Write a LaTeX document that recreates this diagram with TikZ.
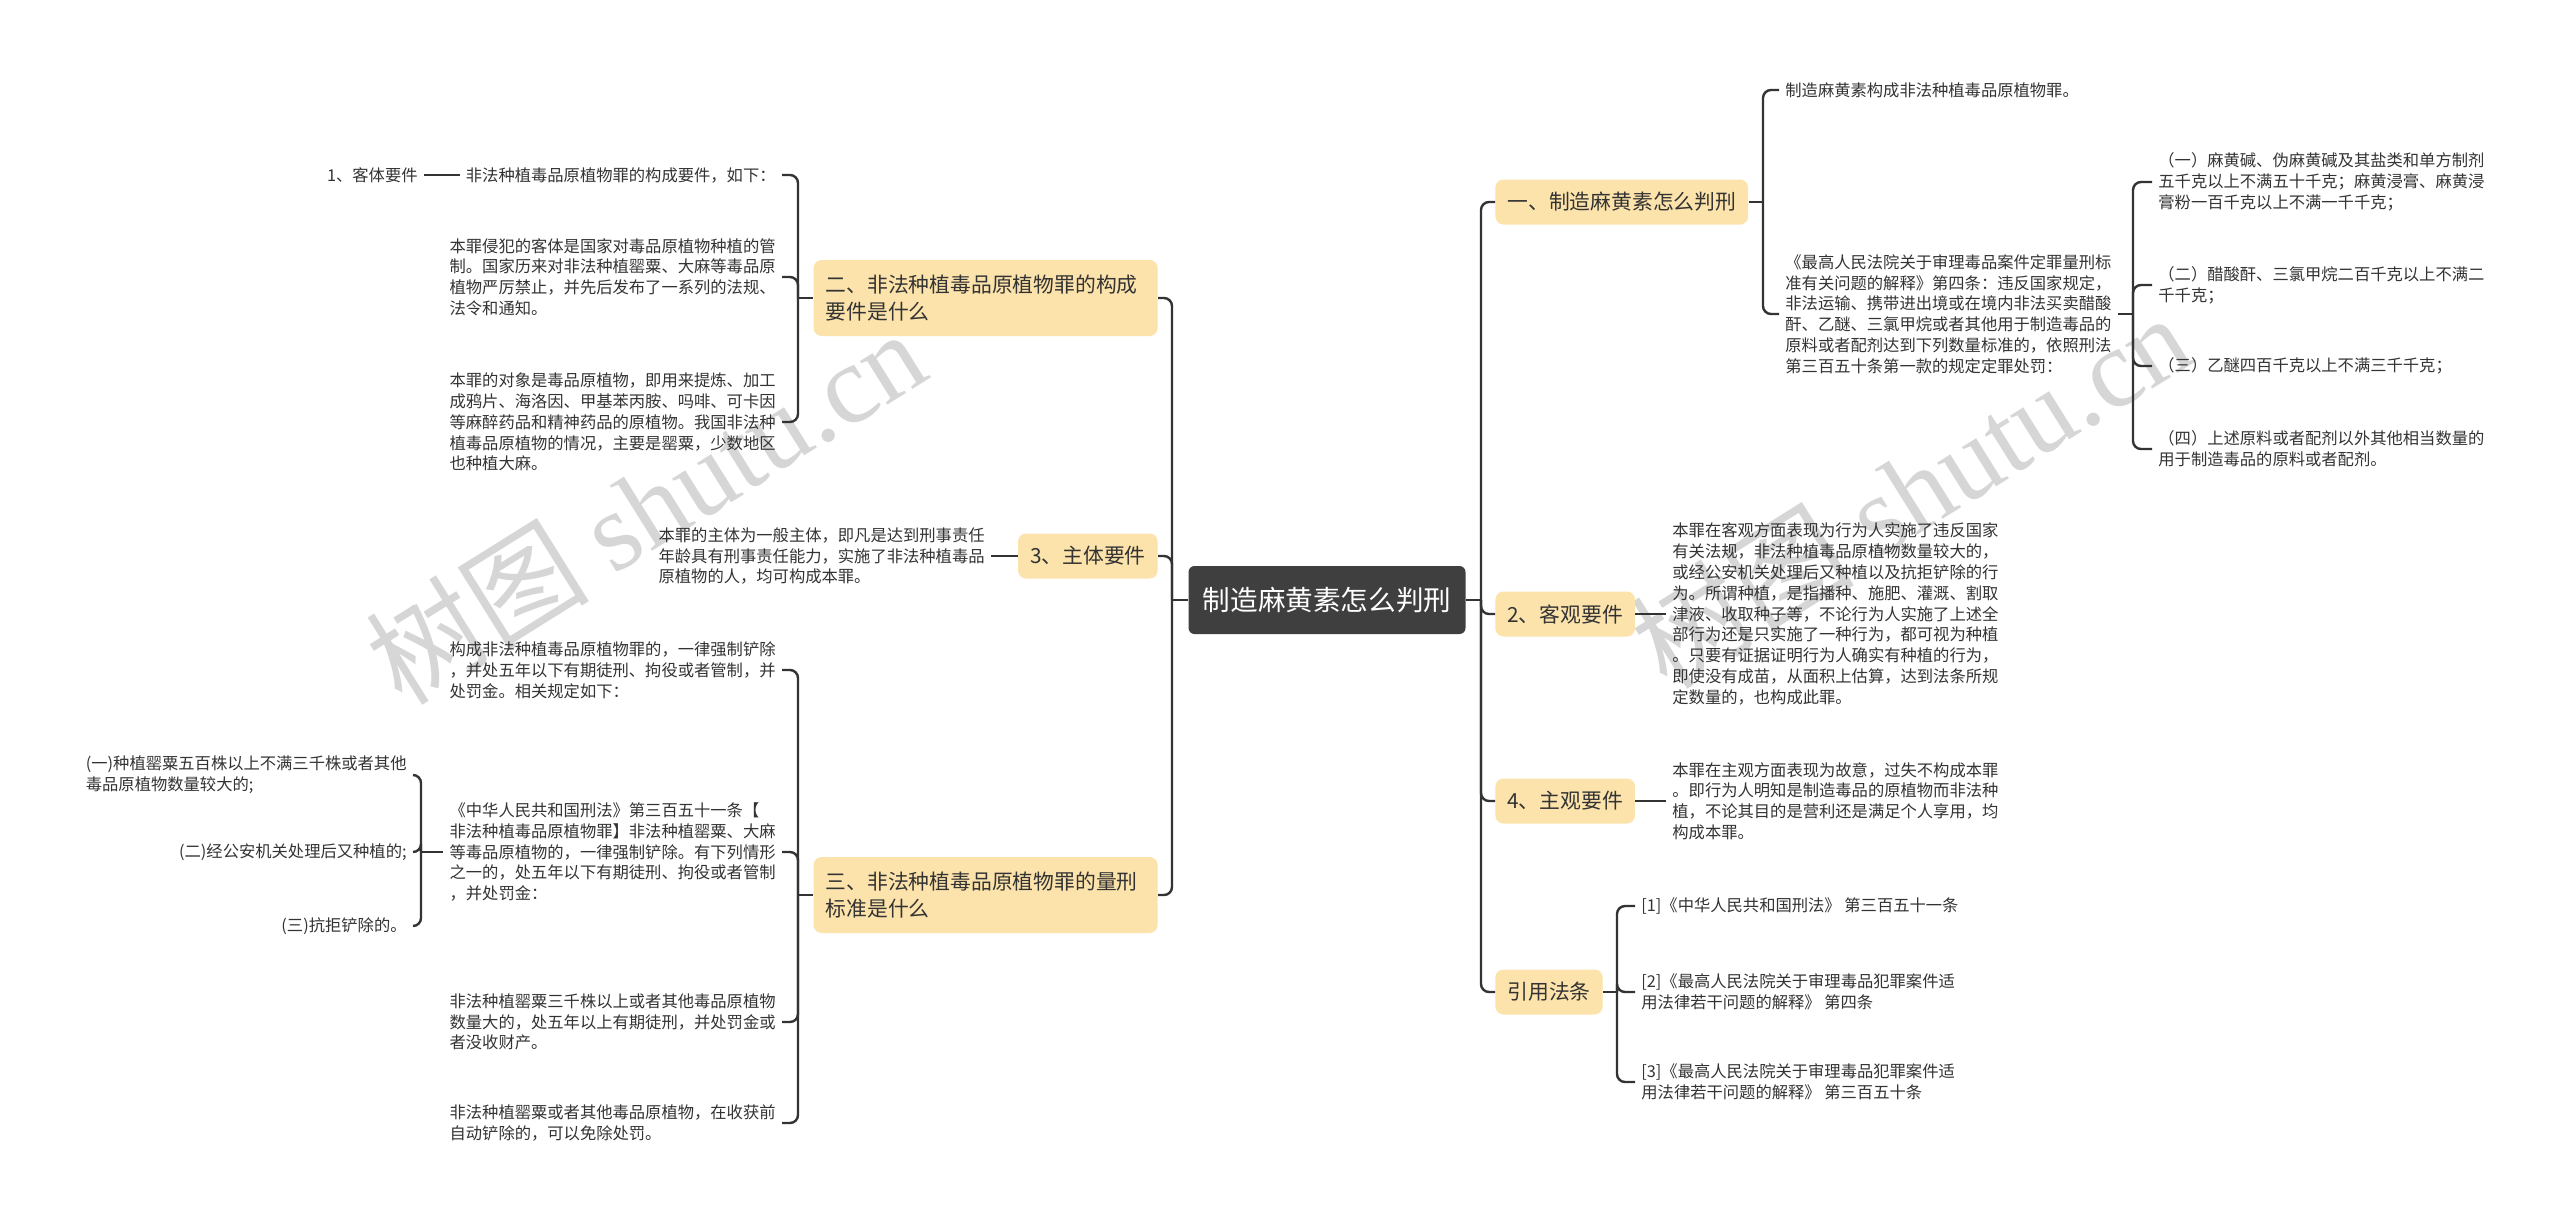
\documentclass[tikz,border=0pt]{standalone}
\usepackage{fontspec}
\newfontfamily\cjk{Noto Sans CJK SC}
\newfontfamily\wmserif{Liberation Serif}
\usetikzlibrary{positioning}
\definecolor{rootgray}{HTML}{3F3F3F}
\definecolor{topicbg}{HTML}{FCE3AB}
\definecolor{linegray}{HTML}{333333}
\definecolor{wmgray}{HTML}{D6D6D6}

\begin{document}
\begin{tikzpicture}[x=0.5pt, y=-0.5pt, font=\cjk, text=linegray,
  root/.style={fill=rootgray, text=white, rounded corners=3pt, minimum width=138.5pt, minimum height=34pt, inner sep=0pt, font=\cjk\fontsize{13.8}{16}\selectfont},
  topic/.style={fill=topicbg, rounded corners=4pt, minimum height=22.5pt, inner xsep=6pt, inner ysep=5pt, font=\cjk\fontsize{10.4}{13.5}\selectfont},
  wide/.style={text width=160pt, align=left, minimum height=38pt},
  leaf/.style={inner xsep=3pt, inner ysep=0pt, align=left, font=\cjk\fontsize{8.15}{10.4}\selectfont},
  link/.style={draw=linegray, line width=1.2pt, rounded corners=4pt},
  wm/.style={text=wmgray, font=\cjk\fontsize{56}{60}\selectfont, inner sep=0pt}]
\fill[white] (0,0) rectangle (2560,1223);
\useasboundingbox (0,0) rectangle (2560,1223);

\node[wm, rotate=32] (wmleft) at (645,506) {树图 {\wmserif shutu.cn}};
\node[wm, rotate=32] (wmright) at (1910,490) {树图 {\wmserif shutu.cn}};

\node[root] (root) at (1327,600) {制造麻黄素怎么判刑};

% right side
\node[topic, anchor=west] (t1) at (1495,202) {一、制造麻黄素怎么判刑};
\node[topic, anchor=west] (t2) at (1495,614) {2、客观要件};
\node[topic, anchor=west] (t4) at (1495,801) {4、主观要件};
\node[topic, anchor=west] (tref) at (1495,992) {引用法条};

\node[leaf, anchor=west] (a1) at (1779,90) {制造麻黄素构成非法种植毒品原植物罪。};
\node[leaf, anchor=west] (a2) at (1779,314) {《最高人民法院关于审理毒品案件定罪量刑标\\准有关问题的解释》第四条：违反国家规定，\\非法运输、携带进出境或在境内非法买卖醋酸\\酐、乙醚、三氯甲烷或者其他用于制造毒品的\\原料或者配剂达到下列数量标准的，依照刑法\\第三百五十条第一款的规定定罪处罚：};
\node[leaf, anchor=west] (c1) at (2152,182) {（一）麻黄碱、伪麻黄碱及其盐类和单方制剂\\五千克以上不满五十千克；麻黄浸膏、麻黄浸\\膏粉一百千克以上不满一千千克；};
\node[leaf, anchor=west] (c2) at (2152,285) {（二）醋酸酐、三氯甲烷二百千克以上不满二\\千千克；};
\node[leaf, anchor=west] (c3) at (2152,366) {（三）乙醚四百千克以上不满三千千克；};
\node[leaf, anchor=west] (c4) at (2152,449) {（四）上述原料或者配剂以外其他相当数量的\\用于制造毒品的原料或者配剂。};

\node[leaf, anchor=west] (s2) at (1666,614) {本罪在客观方面表现为行为人实施了违反国家\\有关法规，非法种植毒品原植物数量较大的，\\或经公安机关处理后又种植以及抗拒铲除的行\\为。所谓种植，是指播种、施肥、灌溉、割取\\津液、收取种子等，不论行为人实施了上述全\\部行为还是只实施了一种行为，都可视为种植\\。只要有证据证明行为人确实有种植的行为，\\即使没有成苗，从面积上估算，达到法条所规\\定数量的，也构成此罪。};
\node[leaf, anchor=west] (s4) at (1666,801) {本罪在主观方面表现为故意，过失不构成本罪\\。即行为人明知是制造毒品的原植物而非法种\\植，不论其目的是营利还是满足个人享用，均\\构成本罪。};

\node[leaf, anchor=west] (d1) at (1635,906) {[1]《中华人民共和国刑法》 第三百五十一条};
\node[leaf, anchor=west] (d2) at (1635,992) {[2]《最高人民法院关于审理毒品犯罪案件适\\用法律若干问题的解释》 第四条};
\node[leaf, anchor=west] (d3) at (1635,1082) {[3]《最高人民法院关于审理毒品犯罪案件适\\用法律若干问题的解释》 第三百五十条};

% left side
\node[topic, wide, anchor=east] (tcomp) at (1158,298) {二、非法种植毒品原植物罪的构成\\要件是什么};
\node[topic, anchor=east] (t3) at (1158,556) {3、主体要件};
\node[topic, wide, anchor=east] (tpen) at (1158,895) {三、非法种植毒品原植物罪的量刑\\标准是什么};

\node[leaf, anchor=east] (e1) at (782,175) {非法种植毒品原植物罪的构成要件，如下：};
\node[leaf, anchor=east] (f1) at (424,175) {1、客体要件};
\node[leaf, anchor=east] (e2) at (782,277) {本罪侵犯的客体是国家对毒品原植物种植的管\\制。国家历来对非法种植罂粟、大麻等毒品原\\植物严厉禁止，并先后发布了一系列的法规、\\法令和通知。};
\node[leaf, anchor=east] (e3) at (782,422) {本罪的对象是毒品原植物，即用来提炼、加工\\成鸦片、海洛因、甲基苯丙胺、吗啡、可卡因\\等麻醉药品和精神药品的原植物。我国非法种\\植毒品原植物的情况，主要是罂粟，少数地区\\也种植大麻。};

\node[leaf, anchor=east] (k) at (991,556) {本罪的主体为一般主体，即凡是达到刑事责任\\年龄具有刑事责任能力，实施了非法种植毒品\\原植物的人，均可构成本罪。};

\node[leaf, anchor=east] (g1) at (782,670) {构成非法种植毒品原植物罪的，一律强制铲除\\，并处五年以下有期徒刑、拘役或者管制，并\\处罚金。相关规定如下：};
\node[leaf, anchor=east] (g2) at (782,852) {《中华人民共和国刑法》第三百五十一条【\\非法种植毒品原植物罪】非法种植罂粟、大麻\\等毒品原植物的，一律强制铲除。有下列情形\\之一的，处五年以下有期徒刑、拘役或者管制\\，并处罚金：};
\node[leaf, anchor=east] (g3) at (782,1022) {非法种植罂粟三千株以上或者其他毒品原植物\\数量大的，处五年以上有期徒刑，并处罚金或\\者没收财产。};
\node[leaf, anchor=east] (g4) at (782,1123) {非法种植罂粟或者其他毒品原植物，在收获前\\自动铲除的，可以免除处罚。};

\node[leaf, anchor=east] (h1) at (413,775) {(一)种植罂粟五百株以上不满三千株或者其他\\毒品原植物数量较大的;};
\node[leaf, anchor=east] (h2) at (413,852) {(二)经公安机关处理后又种植的;};
\node[leaf, anchor=east] (h3) at (413,926) {(三)抗拒铲除的。};

% connectors
\coordinate (jr) at (1481,600);
\coordinate (jl) at (1172,600);
\coordinate (j1) at (1763,202);
\coordinate (ja) at (2133,314);
\coordinate (jref) at (1617,992);
\coordinate (jc) at (798,298);
\coordinate (jp) at (798,895);
\coordinate (jg) at (421,852);

\draw[link] (root.east) -- (jr);
\foreach \n in {t1,t2,t4,tref} \draw[link] (jr) |- (\n.west);
\draw[link] (t1.east) -- (j1);
\foreach \n in {a1,a2} \draw[link] (j1) |- (\n.west);
\draw[link] (a2.east) -- (ja);
\foreach \n in {c1,c2,c3,c4} \draw[link] (ja) |- (\n.west);
\draw[link] (t2.east) -- (s2.west);
\draw[link] (t4.east) -- (s4.west);
\draw[link] (tref.east) -- (jref);
\foreach \n in {d1,d2,d3} \draw[link] (jref) |- (\n.west);

\draw[link] (root.west) -- (jl);
\foreach \n in {tcomp,t3,tpen} \draw[link] (jl) |- (\n.east);
\draw[link] (tcomp.west) -- (jc);
\foreach \n in {e1,e2,e3} \draw[link] (jc) |- (\n.east);
\draw[link] (e1.west) -- (f1.east);
\draw[link] (t3.west) -- (k.east);
\draw[link] (tpen.west) -- (jp);
\foreach \n in {g1,g2,g3,g4} \draw[link] (jp) |- (\n.east);
\draw[link] (g2.west) -- (jg);
\foreach \n in {h1,h2,h3} \draw[link] (jg) |- (\n.east);
\end{tikzpicture}
\end{document}
